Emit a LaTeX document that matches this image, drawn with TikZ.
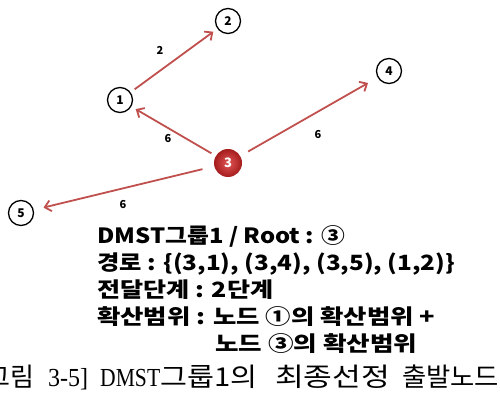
\documentclass[tikz,border=0pt]{standalone}
\usepackage{fontspec}
\usepackage{graphicx}
\setmainfont{Noto Sans CJK KR}
\newfontfamily\capserif{Liberation Serif}
\usetikzlibrary{arrows.meta,shadings}
\definecolor{edgered}{HTML}{C0504D}
\definecolor{rootin}{HTML}{E25555}
\definecolor{rootout}{HTML}{A51C1C}
\newcommand{\fitw}[2]{\resizebox{#1}{\height}{#2}}
\begin{document}
\begin{tikzpicture}[x=1pt,y=-1pt,
  nd/.style={circle,draw=black,line width=1.3pt,minimum size=25pt,inner sep=0pt,font=\bfseries\fontsize{12}{12}\selectfont,fill=white},
  rootnd/.style={circle,shading=radial,inner color=rootin,outer color=rootout,minimum size=28pt,inner sep=0pt,text=white,font=\bfseries\fontsize{13}{13}\selectfont},
  edge/.style={draw=edgered,line width=1.8pt,-{Straight Barb[length=6pt,width=11pt,line width=1.8pt]}},
  wt/.style={font=\bfseries\fontsize{11}{11}\selectfont,inner sep=0pt},
  txt/.style={anchor=base west,inner sep=0pt,font=\bfseries\fontsize{21}{21}\selectfont},
  captxt/.style={anchor=base west,inner sep=0pt,font=\fontsize{26}{26}\selectfont},
]
\useasboundingbox (0,0) rectangle (500,401);
\node[nd] (n1) at (120,100) {1};
\node[nd] (n2) at (228,21) {2};
\node[nd] (n4) at (389,71) {4};
\node[nd] (n5) at (21,213) {5};
\node[rootnd] (n3) at (228,163) {3};

\draw[edge,shorten <=5pt,shorten >=5pt] (n1) -- (n2);
\draw[edge,shorten <=5pt,shorten >=5pt] (n3) -- (n1);
\draw[edge,shorten <=9pt,shorten >=11pt] (n3) -- (n4);
\draw[edge,shorten <=12pt,shorten >=10pt] (n3) -- (n5);

\node[wt] (w12) at (160,50) {2};
\node[wt] (w31) at (168,139) {6};
\node[wt] (w34) at (318,135) {6};
\node[wt] (w35) at (123,205) {6};

\node[txt] (l1) at (97,243) {\fitw{248pt}{DMST그룹1 / Root : ③}};
\node[txt] (l2) at (97,270) {\fitw{358pt}{경로 : \{(3,1), (3,4), (3,5), (1,2)\}}};
\node[txt] (l3) at (97,297) {\fitw{176pt}{전달단계 : 2단계}};
\node[txt] (l4) at (97,324) {\fitw{338pt}{확산범위 : 노드 ①의 확산범위 +}};
\node[txt] (l5) at (215,351) {\fitw{202pt}{노드 ③의 확산범위}};

\node[captxt,anchor=base east] (c1) at (35,386) {[그림};
\node[captxt] (c2) at (48,386) {\fitw{40pt}{\capserif 3-5]}};
\node[captxt] (c3) at (100,386) {\fitw{60pt}{\capserif DMST}};
\node[captxt] (c4) at (160,386) {\fitw{97pt}{그룹1의}};
\node[captxt] (c5) at (275,386) {\fitw{115pt}{최종선정}};
\node[captxt] (c6) at (402,386) {\fitw{97pt}{출발노드}};
\end{tikzpicture}
\end{document}
